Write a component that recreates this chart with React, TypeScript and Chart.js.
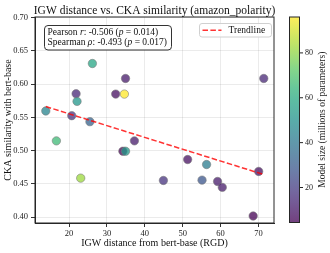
import React, { useEffect, useRef } from "react";
import { Chart, registerables } from "chart.js";

Chart.register(...registerables);

const TITLE = "IGW distance vs. CKA similarity (amazon_polarity)";
const X_LABEL = "IGW distance from bert-base (RGD)";
const Y_LABEL = "CKA similarity with bert-base";
const CBAR_LABEL = "Model size (millions of parameters)";
const TREND_LABEL = "Trendline";

const IGW_DISTANCE = [
  26.15, 34.9, 21.85, 32.3, 34.6, 22.1, 13.85, 20.7, 25.5, 16.65, 37.25, 34.2,
  34.9, 23.07, 44.9, 71.4, 51.3, 56.3, 70.05, 55.1, 59.2, 60.45, 68.6,
];
const CKA_SIMILARITY = [
  0.631, 0.6085, 0.5855, 0.585, 0.585, 0.574, 0.5596, 0.5525, 0.5435, 0.5146,
  0.5146, 0.499, 0.499, 0.4585, 0.455, 0.6085, 0.4865, 0.479, 0.4686, 0.4555,
  0.4535, 0.4446, 0.4015,
];
const MODEL_SIZE = [
  58, 11, 14, 8, 96, 52, 45, 17, 33, 66, 11, 4.4, 53, 82, 17, 14, 8, 42, 8, 28,
  11, 11, 4.4,
];

const X_TICKS = [20, 30, 40, 50, 60, 70];
const Y_TICKS = [0.4, 0.45, 0.5, 0.55, 0.6, 0.65, 0.7];
const CBAR_TICKS = [20, 40, 60, 80];
const CBAR_MIN = 4.4;
const CBAR_MAX = 96;

const STATS_LINES = [
  [["Pearson ", false], ["r", true], [": -0.506 (", false], ["p", true], [" = 0.014)", false]],
  [["Spearman ", false], ["\u03C1", true], [": -0.493 (", false], ["p", true], [" = 0.017)", false]],
];

const FONT = "'Liberation Serif', 'DejaVu Serif', serif";
const ALPHA = 0.75;

const VIRIDIS = [
  [68, 1, 84],
  [71, 45, 123],
  [59, 82, 139],
  [44, 114, 142],
  [33, 145, 140],
  [40, 174, 128],
  [94, 201, 98],
  [173, 220, 48],
  [253, 231, 37],
];

function viridis(t: number, a: number) {
  const c = Math.max(0, Math.min(1, t)) * (VIRIDIS.length - 1);
  const i = Math.min(VIRIDIS.length - 2, Math.floor(c));
  const f = c - i;
  const p = VIRIDIS[i];
  const q = VIRIDIS[i + 1];
  const r = Math.round(p[0] + (q[0] - p[0]) * f);
  const g = Math.round(p[1] + (q[1] - p[1]) * f);
  const b = Math.round(p[2] + (q[2] - p[2]) * f);
  return `rgba(${r},${g},${b},${a})`;
}

function sizeColor(v: number) {
  return viridis((v - CBAR_MIN) / (CBAR_MAX - CBAR_MIN), ALPHA);
}

function regression(xs: number[], ys: number[]) {
  const n = xs.length;
  const mx = xs.reduce((s, v) => s + v, 0) / n;
  const my = ys.reduce((s, v) => s + v, 0) / n;
  let sxy = 0;
  let sxx = 0;
  for (let i = 0; i < n; i++) {
    sxy += (xs[i] - mx) * (ys[i] - my);
    sxx += (xs[i] - mx) * (xs[i] - mx);
  }
  const slope = sxy / sxx;
  return { slope, intercept: my - slope * mx };
}

function roundRect(ctx: CanvasRenderingContext2D, x: number, y: number, w: number, h: number, r: number) {
  ctx.beginPath();
  ctx.moveTo(x + r, y);
  ctx.lineTo(x + w - r, y);
  ctx.arcTo(x + w, y, x + w, y + r, r);
  ctx.lineTo(x + w, y + h - r);
  ctx.arcTo(x + w, y + h, x + w - r, y + h, r);
  ctx.lineTo(x + r, y + h);
  ctx.arcTo(x, y + h, x, y + h - r, r);
  ctx.lineTo(x, y + r);
  ctx.arcTo(x, y, x + r, y, r);
  ctx.closePath();
}

const decorPlugin = {
  id: "decor",
  afterDatasetsDraw(chart: any) {
    const { ctx, chartArea } = chart;
    ctx.save();
    ctx.strokeStyle = "#262626";
    ctx.lineWidth = 1;
    ctx.strokeRect(chartArea.left, chartArea.top, chartArea.right - chartArea.left, chartArea.bottom - chartArea.top);
    ctx.restore();
  },
  afterDraw(chart: any) {
    const { ctx, chartArea } = chart;
    ctx.save();
    // Title
    ctx.fillStyle = "#111";
    ctx.font = `11.5px ${FONT}`;
    ctx.textAlign = "center";
    ctx.textBaseline = "middle";
    ctx.fillText(TITLE, (chartArea.left + chartArea.right) / 2, 11);

    // Stats box
    const sx = chartArea.left + 9.5;
    const sy = chartArea.top + 8.5;
    ctx.fillStyle = "rgba(255,255,255,0.9)";
    roundRect(ctx, sx, sy, 127, 24.5, 3.5);
    ctx.fill();
    ctx.strokeStyle = "#333";
    ctx.lineWidth = 1;
    ctx.stroke();
    ctx.fillStyle = "#111";
    ctx.textAlign = "left";
    STATS_LINES.forEach((line, li) => {
      let x = sx + 3;
      const y = sy + 7 + li * 10;
      line.forEach(([txt, it]) => {
        ctx.font = `${it ? "italic " : ""}9.5px ${FONT}`;
        ctx.fillText(txt as string, x, y);
        x += ctx.measureText(txt as string).width;
      });
    });

    // Legend
    const trend = chart.data.datasets[0];
    const lx = 199.5;
    const ly = 23.5;
    ctx.fillStyle = "rgba(255,255,255,0.8)";
    roundRect(ctx, lx, ly, 72, 13.5, 2.5);
    ctx.fill();
    ctx.strokeStyle = "#d0d0d0";
    ctx.lineWidth = 1;
    ctx.stroke();
    ctx.strokeStyle = trend.borderColor;
    ctx.lineWidth = trend.borderWidth;
    ctx.setLineDash(trend.borderDash);
    ctx.beginPath();
    ctx.moveTo(lx + 3, ly + 6.75);
    ctx.lineTo(lx + 22, ly + 6.75);
    ctx.stroke();
    ctx.setLineDash([]);
    ctx.fillStyle = "#111";
    ctx.font = `9.5px ${FONT}`;
    ctx.fillText(trend.label, lx + 29, ly + 7);

    // Colorbar
    const cx0 = 289.5;
    const cx1 = 299.5;
    const cy0 = chartArea.top;
    const cy1 = chartArea.bottom - 0.5;
    const grad = ctx.createLinearGradient(0, cy1, 0, cy0);
    for (let i = 0; i <= 20; i++) grad.addColorStop(i / 20, viridis(i / 20, ALPHA));
    ctx.fillStyle = grad;
    ctx.fillRect(cx0, cy0, cx1 - cx0, cy1 - cy0);
    ctx.strokeStyle = "#262626";
    ctx.lineWidth = 1;
    ctx.strokeRect(cx0, cy0, cx1 - cx0, cy1 - cy0);
    ctx.font = `8px ${FONT}`;
    ctx.fillStyle = "#222";
    ctx.textAlign = "left";
    CBAR_TICKS.forEach((v) => {
      const y = cy1 - ((v - CBAR_MIN) / (CBAR_MAX - CBAR_MIN)) * (cy1 - cy0);
      ctx.beginPath();
      ctx.moveTo(cx1, y);
      ctx.lineTo(cx1 + 3.5, y);
      ctx.stroke();
      ctx.fillText(String(v), cx1 + 5.5, y + 0.5);
    });
    ctx.save();
    ctx.translate(322, (cy0 + cy1) / 2);
    ctx.rotate(-Math.PI / 2);
    ctx.textAlign = "center";
    ctx.font = `9.5px ${FONT}`;
    ctx.fillText(CBAR_LABEL, 0, 0);
    ctx.restore();
    ctx.restore();
  },
};

export default function App() {
  const ref = useRef<HTMLCanvasElement | null>(null);
  useEffect(() => {
    if (!ref.current) return;
    const { slope, intercept } = regression(IGW_DISTANCE, CKA_SIMILARITY);
    const xMin = Math.min(...IGW_DISTANCE);
    const xMax = Math.max(...IGW_DISTANCE);
    const points = IGW_DISTANCE.map((x, i) => ({ x, y: CKA_SIMILARITY[i] }));
    const chart = new Chart(ref.current, {
      type: "scatter",
      data: {
        datasets: [
          {
            type: "line",
            label: TREND_LABEL,
            data: [
              { x: xMin, y: intercept + slope * xMin },
              { x: xMax, y: intercept + slope * xMax },
            ],
            borderColor: "rgba(255,0,0,0.8)",
            borderWidth: 1.5,
            borderDash: [5.5, 2.4],
            pointRadius: 0,
            order: 0,
          } as any,
          {
            label: "models",
            data: points,
            backgroundColor: MODEL_SIZE.map(sizeColor),
            borderColor: "rgba(120,120,120,0.8)",
            borderWidth: 0.7,
            pointRadius: 4.2,
            order: 1,
          },
        ],
      },
      options: {
        responsive: false,
        animation: false,
        layout: { padding: { top: 17, right: 56, left: 0, bottom: 0 } },
        plugins: { legend: { display: false }, tooltip: { enabled: false }, title: { display: false } },
        scales: {
          x: {
            type: "linear",
            min: 11,
            max: 74.1,
            afterFit: (s: any) => {
              s.height = 30;
            },
            afterBuildTicks: (s: any) => {
              s.ticks = X_TICKS.map((v) => ({ value: v }));
            },
            ticks: { font: { family: FONT, size: 8.5 }, color: "#222", padding: 2, maxRotation: 0 },
            grid: { color: "rgba(0,0,0,0.08)", tickColor: "#333", tickLength: 4 },
            border: { color: "#262626", width: 1 },
            title: { display: true, text: X_LABEL, font: { family: FONT, size: 10 }, color: "#111", padding: { top: 0, bottom: 4 } },
          },
          y: {
            type: "linear",
            min: 0.391,
            max: 0.701,
            afterFit: (s: any) => {
              s.width = 35;
            },
            afterBuildTicks: (s: any) => {
              s.ticks = Y_TICKS.map((v) => ({ value: v }));
            },
            ticks: { font: { family: FONT, size: 8.5 }, color: "#222", padding: 3, callback: (v: any) => Number(v).toFixed(2) },
            grid: { color: "rgba(0,0,0,0.08)", tickColor: "#333", tickLength: 4 },
            border: { color: "#262626", width: 1 },
            title: { display: true, text: Y_LABEL, font: { family: FONT, size: 10 }, color: "#111", padding: { top: 2, bottom: 0 } },
          },
        },
      },
      plugins: [decorPlugin],
    });
    return () => chart.destroy();
  }, []);
  return (
    <div style={{ position: "absolute", left: 0, top: 0, width: 330, height: 253, background: "#fff" }}>
      <canvas ref={ref} width={330} height={253} />
    </div>
  );
}
